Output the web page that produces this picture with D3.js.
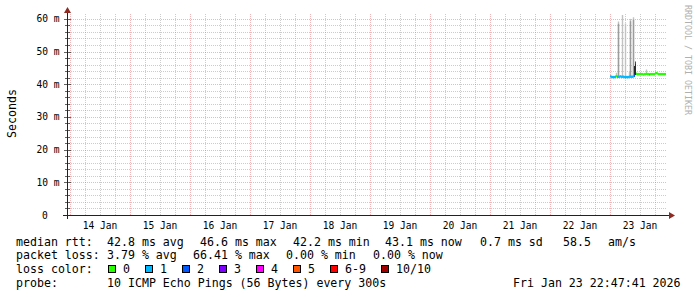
<!DOCTYPE html>
<html>
<head>
<meta charset="utf-8">
<script src="https://cdn.jsdelivr.net/npm/d3@7/dist/d3.min.js"></script>
<style>
body { margin: 0; background: #fff; }
svg text { font-family: "DejaVu Sans Mono", monospace; fill: #000; }
</style>
</head>
<body>
<div id="chart"></div>
<script>
/* Smokeping style latency graph, last 10 days */

// graph window (UTC)
var start_time = Date.UTC(2026, 0, 13, 22, 47, 41);
var end_time   = Date.UTC(2026, 0, 23, 22, 47, 41);
var data_start = Date.UTC(2026, 0, 23, 0, 0, 0);
var step_ms    = 24 * 60 * 1000;

var day_labels = ['14 Jan', '15 Jan', '16 Jan', '17 Jan', '18 Jan',
                  '19 Jan', '20 Jan', '21 Jan', '22 Jan', '23 Jan'];
var y_ticks = [0, 10, 20, 30, 40, 50, 60];

// one value per 24 min step, starting 23 Jan 00:00
var median_rtt = [
  42.4, 42.3, 42.2, 42.2, 42.2, 42.3, 42.5, 42.3, 42.3, 42.3,
  42.4, 42.3, 42.3, 42.3, 42.2, 42.2, 42.2, 42.2, 42.2, 42.3,
  42.3, 42.3, 42.3, 42.4, 42.6, 46.6, 43.2, 43.1, 43.1, 43.1,
  43.1, 43.1, 43.1, 43.0, 43.1, 43.1, 43.2, 43.1, 43.1, 43.0,
  43.1, 43.1, 43.1, 43.1, 43.1, 43.4, 43.4, 43.3, 43.1, 43.1,
  43.1, 43.1, 43.1, 43.1, 43.1, 43.1
];
var loss_count = [
  1, 1, 1, 1, 1, 1, 0, 1, 1, 1,
  1, 1, 1, 1, 1, 1, 1, 1, 1, 1,
  1, 1, 1, 1, 2, 7, 0, 0, 0, 0,
  0, 0, 0, 0, 0, 0, 0, 0, 0, 1,
  0, 0, 0, 0, 0, 0, 0, 0, 0, 0,
  0, 0, 0, 0, 0, 0
];
// highest ping of each step (null = close to the median)
var smoke_max = [
  null, null, null, null, null, null, 43.5, null, 59.2, null,
  null, null, 61.2, null, null, 58.6, null, null, null, 43.8,
  60.0, null, null, 60.5, null, null, null, null, null, null,
  null, null, null, null, null, null, 44.5, null, null, null,
  null, null, null, null, null, null, null, null, null, null,
  null, null, null, null, null, null
];
// second highest ping, when it is also far out
var smoke_second = [
  null, null, null, null, null, null, null, null, 58.5, null,
  null, null, null, null, null, null, null, null, null, null,
  59.3, null, null, 59.8, null, null, null, null, null, null,
  null, null, null, null, null, null, null, null, null, null,
  null, null, null, null, null, null, null, null, null, null,
  null, null, null, null, null, null
];
// dense spread of the remaining pings on lossy steps
var core_low  = { 24: 42.6, 25: 42.8 };
var core_high = { 24: 45.6, 25: 46.6 };

var loss_labels = ['0', '1', '2', '3', '4', '5', '6-9', '10/10'];
var loss_colors = ['#26ff00', '#00b8ff', '#0059ff', '#7e00ff',
                   '#ff00ff', '#ff5500', '#ff0000', '#a10000'];

function loss_index(n){
  if (n >= 10) return 7;
  if (n >= 6) return 6;
  return n;
}

var chart_width  = 697;
var chart_height = 297;

var svg = d3.select('#chart')
    .append('svg')
    .attr('width', chart_width)
    .attr('height', chart_height);

svg.append('rect')
    .attr('width', chart_width)
    .attr('height', chart_height)
    .attr('fill', '#fff');

// scales
var x_scale = d3.scaleUtc()
    .domain([start_time, end_time])
    .range([67, 667]);

var y_scale = d3.scaleLinear()
    .domain([0, 61.8])
    .range([215, 13]);

var grid_color  = 'rgba(143,143,143,0.45)';
var mgrid_color = 'rgba(224,80,80,0.42)';
var axis_color  = '#222';
var arrow_color = '#8e2a22';

function px(v){ return Math.round(v) + 0.5; }

// horizontal grid
var minor_y = d3.range(2, 61.8, 2).filter(function(d){ return d % 10 !== 0; });
var major_y = y_ticks.filter(function(d){ return d > 0; });

var grid = svg.append('g').attr('shape-rendering', 'crispEdges');

grid.selectAll('line.hminor')
    .data(minor_y)
    .enter()
    .append('line')
    .attr('x1', 67).attr('x2', 667)
    .attr('y1', function(d){ return px(y_scale(d)); })
    .attr('y2', function(d){ return px(y_scale(d)); })
    .attr('stroke', grid_color)
    .attr('stroke-dasharray', '1,1');

// vertical grid: 6 hours minor, days major
var minor_x = d3.utcHour.every(6).range(start_time, end_time)
    .filter(function(d){ return d.getUTCHours() !== 0; });
var major_x = d3.utcDay.range(start_time, end_time);

grid.selectAll('line.vminor')
    .data(minor_x)
    .enter()
    .append('line')
    .attr('x1', function(d){ return px(x_scale(d)); })
    .attr('x2', function(d){ return px(x_scale(d)); })
    .attr('y1', 215).attr('y2', 13)
    .attr('stroke', grid_color)
    .attr('stroke-dasharray', '1,1');

grid.selectAll('line.hmajor')
    .data(major_y)
    .enter()
    .append('line')
    .attr('x1', 67).attr('x2', 667)
    .attr('y1', function(d){ return px(y_scale(d)); })
    .attr('y2', function(d){ return px(y_scale(d)); })
    .attr('stroke', mgrid_color)
    .attr('stroke-dasharray', '1,1');

grid.selectAll('line.vmajor')
    .data(major_x)
    .enter()
    .append('line')
    .attr('x1', function(d){ return px(x_scale(d)); })
    .attr('x2', function(d){ return px(x_scale(d)); })
    .attr('y1', 215).attr('y2', 13)
    .attr('stroke', mgrid_color)
    .attr('stroke-dasharray', '1,1');

// step helpers
function col_x(i){ return Math.round(x_scale(data_start + i * step_ms)); }
function col_w(i){ return Math.max(1, Math.round(x_scale(data_start + (i + 1) * step_ms)) - col_x(i)); }

var steps = d3.range(median_rtt.length);
var plot = svg.append('g');

// smoke: outlying pings
plot.selectAll('rect.smoke')
    .data(steps.filter(function(i){ return smoke_max[i] !== null; }))
    .enter()
    .append('rect')
    .attr('x', function(i){ return col_x(i) - 0.2; })
    .attr('width', function(i){ return col_w(i) + 0.4; })
    .attr('y', function(i){ return y_scale(smoke_max[i]); })
    .attr('height', function(i){ return y_scale(median_rtt[i]) - y_scale(smoke_max[i]); })
    .attr('fill', '#c2c2c2');

plot.selectAll('rect.smoke2')
    .data(steps.filter(function(i){ return smoke_second[i] !== null; }))
    .enter()
    .append('rect')
    .attr('x', function(i){ return col_x(i) - 0.2; })
    .attr('width', function(i){ return col_w(i) + 0.4; })
    .attr('y', function(i){ return y_scale(smoke_second[i]); })
    .attr('height', function(i){ return y_scale(median_rtt[i]) - y_scale(smoke_second[i]); })
    .attr('fill', '#9c9c9c');

plot.selectAll('rect.core')
    .data(Object.keys(core_low).map(Number))
    .enter()
    .append('rect')
    .attr('x', col_x)
    .attr('width', col_w)
    .attr('y', function(i){ return y_scale(core_high[i]); })
    .attr('height', function(i){ return y_scale(core_low[i]) - y_scale(core_high[i]); })
    .attr('fill', '#2a2a2a');

// median, coloured by packet loss
plot.selectAll('rect.median')
    .data(steps)
    .enter()
    .append('rect')
    .attr('x', col_x)
    .attr('width', function(i){ return col_w(i) + 0.01; })
    .attr('y', function(i){ return y_scale(median_rtt[i]) - 1.2; })
    .attr('height', 2.4)
    .attr('fill', function(i){ return loss_colors[loss_index(loss_count[i])]; });

// axes
var axes = svg.append('g').attr('shape-rendering', 'crispEdges');

axes.append('line')
    .attr('x1', 63).attr('x2', 669)
    .attr('y1', 215.5).attr('y2', 215.5)
    .attr('stroke', axis_color);

axes.append('line')
    .attr('x1', 67.5).attr('x2', 67.5)
    .attr('y1', 219).attr('y2', 12)
    .attr('stroke', axis_color);

axes.selectAll('line.ytick')
    .data(d3.range(2, 61.8, 2))
    .enter()
    .append('line')
    .attr('x1', function(d){ return d % 10 === 0 ? 64 : 65; })
    .attr('x2', function(d){ return d % 10 === 0 ? 71 : 70; })
    .attr('y1', function(d){ return px(y_scale(d)); })
    .attr('y2', function(d){ return px(y_scale(d)); })
    .attr('stroke', axis_color)
    .attr('stroke-opacity', 0.7);

svg.append('path')
    .attr('d', 'M64,13L67.5,7L71,13Z')
    .attr('fill', arrow_color);

svg.append('path')
    .attr('d', 'M669,212L675,215.5L669,219Z')
    .attr('fill', arrow_color);

// y labels
svg.selectAll('text.ylab')
    .data(y_ticks)
    .enter()
    .append('text')
    .attr('x', function(d){ return d === 0 ? 47.9 : 59.5; })
    .attr('y', function(d){ return y_scale(d) + 3.5; })
    .attr('text-anchor', 'end')
    .attr('font-size', '9.6px')
    .text(function(d){ return d === 0 ? '0' : d + ' m'; });

// x labels, centred on noon
svg.selectAll('text.xlab')
    .data(major_x)
    .enter()
    .append('text')
    .attr('x', function(d){ return x_scale(d.getTime() + 12 * 3600 * 1000); })
    .attr('y', 228.5)
    .attr('text-anchor', 'middle')
    .attr('font-size', '9.6px')
    .text(function(d, i){ return day_labels[i]; });

// vertical title
svg.append('text')
    .attr('transform', 'translate(15.5,113.5) rotate(-90)')
    .attr('text-anchor', 'middle')
    .attr('font-size', '11.6px')
    .text('Seconds');

// watermark
svg.append('text')
    .attr('transform', 'translate(684.5,5) rotate(90)')
    .attr('font-size', '8.3px')
    .style('fill', '#b0b0b0')
    .text('RRDTOOL / TOBI OETIKER');

// legend
var row_y = [245.5, 259.2, 272.9, 286.6];
var legend_items = [
  [16, 0, 'median rtt:'], [107, 0, '42.8 ms avg'], [200, 0, '46.6 ms max'],
  [293, 0, '42.2 ms min'], [385, 0, '43.1 ms now'], [480, 0, '0.7 ms sd'],
  [563, 0, '58.5'], [608, 0, 'am/s'],
  [16, 1, 'packet loss:'], [107, 1, '3.79 % avg'], [193, 1, '66.41 % max'],
  [286, 1, '0.00 % min'], [373, 1, '0.00 % now'],
  [16, 2, 'loss color:'],
  [16, 3, 'probe:'], [107, 3, '10 ICMP Echo Pings (56 Bytes) every 300s'],
  [513, 3, 'Fri Jan 23 22:47:41 2026']
];

svg.selectAll('text.legend')
    .data(legend_items)
    .enter()
    .append('text')
    .attr('x', function(d){ return d[0]; })
    .attr('y', function(d){ return row_y[d[1]]; })
    .attr('font-size', '11.6px')
    .style('white-space', 'pre')
    .text(function(d){ return d[2]; });

var swatch_x = [108.5, 145.5, 182.5, 219.5, 256.5, 293.5, 330.5, 381.5];

svg.selectAll('rect.swatch')
    .data(loss_colors)
    .enter()
    .append('rect')
    .attr('x', function(d, i){ return swatch_x[i]; })
    .attr('y', 265.5)
    .attr('width', 7)
    .attr('height', 7)
    .attr('fill', function(d){ return d; })
    .attr('stroke', '#000')
    .attr('stroke-width', 1)
    .attr('shape-rendering', 'crispEdges');

svg.selectAll('text.swatch')
    .data(loss_labels)
    .enter()
    .append('text')
    .attr('x', function(d, i){ return swatch_x[i] + 14.5; })
    .attr('y', row_y[2])
    .attr('font-size', '11.6px')
    .text(function(d){ return d; });
</script>
</body>
</html>
